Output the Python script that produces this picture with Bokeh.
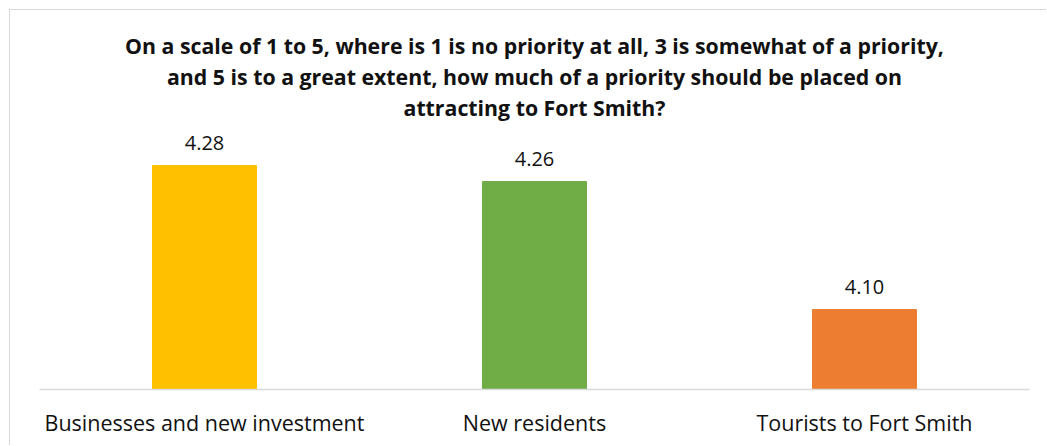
from bokeh.plotting import figure
from bokeh.models import ColumnDataSource, FactorRange, Range1d, Title, LabelSet
from bokeh.core.properties import value
from bokeh.embed import file_html
from bokeh.resources import INLINE

categories = ["Businesses and new investment", "New residents", "Tourists to Fort Smith"]
values = [4.28, 4.26, 4.10]
colors = ["#FFC000", "#70AD47", "#ED7D31"]
title_lines = [
    "On a scale of 1 to 5, where is 1 is no priority at all, 3 is somewhat of a priority,",
    "and 5 is to a great extent, how much of a priority should be placed on",
    "attracting to Fort Smith?",
]

FONT = "Open Sans"

src = ColumnDataSource(dict(cat=categories, val=values, color=colors,
                            label=["%.2f" % v for v in values]))

p = figure(x_range=FactorRange(factors=categories, range_padding=0),
           y_range=Range1d(4.0, 4.335),
           width=1037, height=436, output_backend="svg", toolbar_location=None,
           min_border_left=29, min_border_right=18, min_border_bottom=57, min_border_top=111)
p.styles = {"margin-left": "9px", "margin-top": "9px",
            "border-left": "1px solid #d9d9d9", "border-top": "1px solid #d9d9d9"}

p.vbar(x="cat", top="val", bottom=4.0, width=0.315, color="color", source=src)

labels = LabelSet(x="cat", y="val", text="label", source=src, text_align="center",
                  text_baseline="bottom", y_offset=16, text_font=value(FONT),
                  text_font_size="20px", text_color="#111111")
p.add_layout(labels)

for line in reversed(title_lines):
    t = Title(text=line, align="center", text_font=FONT, text_font_size="21.3px",
              text_font_style="bold", text_color="#111111", standoff=0)
    p.add_layout(t, "above")

p.yaxis.visible = False
p.xgrid.visible = False
p.ygrid.visible = False
p.outline_line_color = None
xa = p.xaxis[0]
xa.axis_line_color = "#d9d9d9"
xa.axis_line_width = 1.5
xa.major_tick_line_color = None
xa.minor_tick_line_color = None
xa.major_label_text_font = FONT
xa.major_label_text_font_size = "21.5px"
xa.major_label_text_color = "#111111"
xa.major_label_standoff = 12

open("out.html", "w").write(file_html(p, INLINE))
